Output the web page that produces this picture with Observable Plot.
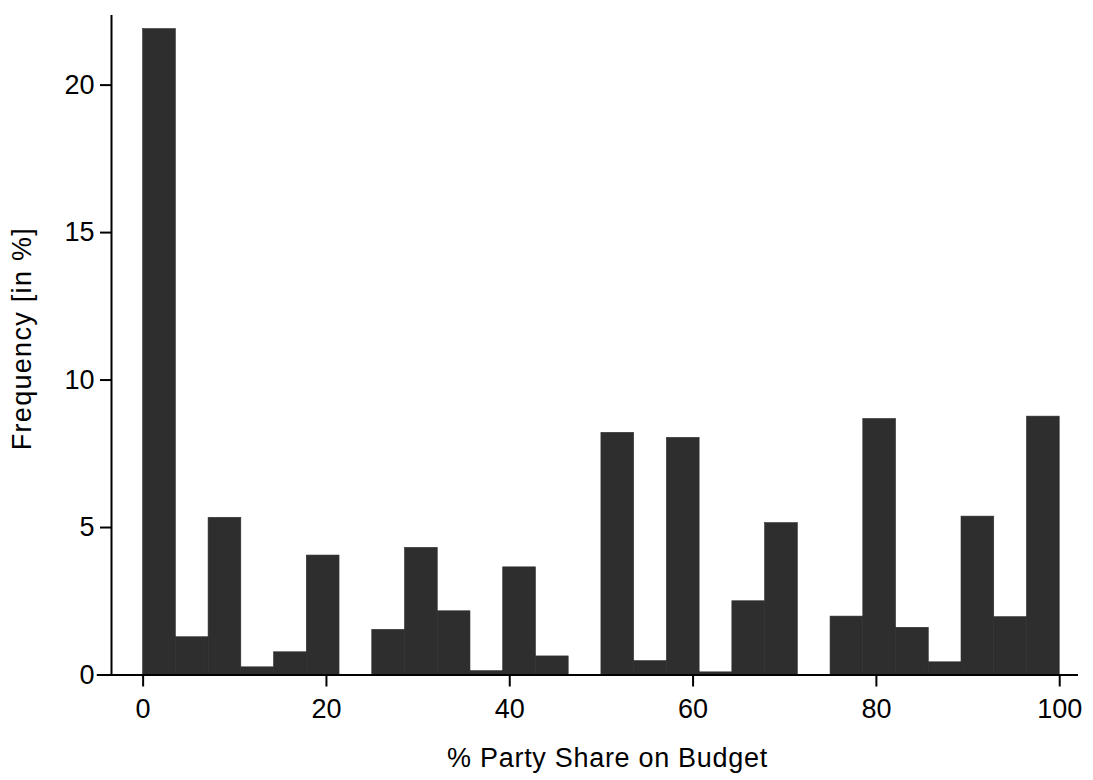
<!DOCTYPE html>
<html><head><meta charset="utf-8">
<script src="https://cdn.jsdelivr.net/npm/d3@7"></script>
<script src="https://cdn.jsdelivr.net/npm/@observablehq/plot@0.6"></script>
<style>body{margin:0;background:#fff}</style>
</head><body><div id="chart"></div>
<script>
// Histogram: 28 equal bins over 0..100 (% party share on budget)
const binCount = 28;
const frequency = [21.9, 1.28, 5.33, 0.26, 0.77, 4.05, 0, 1.53, 4.31, 2.16, 0.13, 3.65, 0.63, 0,
                   8.21, 0.47, 8.04, 0.09, 2.5, 5.15, 0, 1.98, 8.68, 1.6, 0.43, 5.37, 1.96, 8.76];
const xTicks = [0, 20, 40, 60, 80, 100];
const yTicks = [0, 5, 10, 15, 20];
const xLabel = "% Party Share on Budget";
const yLabel = "Frequency [in %]";

const binWidth = 100 / binCount;
const bins = frequency.map((f, i) => ({x1: i * binWidth, x2: (i + 1) * binWidth, f}));

const xDomain = [-3.45, 102.05];
const yDomain = [0, 22.36];

const chart = Plot.plot({
  width: 1093,
  height: 780,
  marginLeft: 111,
  marginRight: 15,
  marginTop: 15,
  marginBottom: 105.5,
  style: {fontFamily: "'Liberation Sans', Arial, sans-serif", background: "#fff", color: "#000"},
  x: {domain: xDomain},
  y: {domain: yDomain},
  marks: [
    Plot.rectY(bins.filter(d => d.f > 0), {x1: "x1", x2: "x2", y: "f", fill: "#2e2e2e", stroke: "#2e2e2e", strokeWidth: 0.6, inset: 0}),
    Plot.ruleY([0], {x1: -5, x2: xDomain[1], strokeWidth: 2}),
    Plot.ruleX([xDomain[0]], {y1: 0, y2: yDomain[1], strokeWidth: 2}),
    Plot.axisX({ticks: xTicks, tickSize: 12, tickPadding: 12, fontSize: 27, label: null, strokeWidth: 2}),
    Plot.axisY({ticks: yTicks, tickSize: 11, tickPadding: 6, fontSize: 27, label: null, strokeWidth: 2}),
    Plot.text([xLabel], {frameAnchor: "bottom", lineAnchor: "middle", dy: 83.5, dx: 12.5, fontSize: 27, className: "xlab"}),
    Plot.text([yLabel], {frameAnchor: "left", lineAnchor: "middle", rotate: -90, dx: -89, dy: 105, fontSize: 27, className: "ylab"})
  ]
});
document.getElementById("chart").appendChild(chart);
d3.select(chart).selectAll(".xlab text").style("letter-spacing", "0.7px");
d3.select(chart).selectAll(".ylab text").style("letter-spacing", "1.3px");
</script>
</body></html>
